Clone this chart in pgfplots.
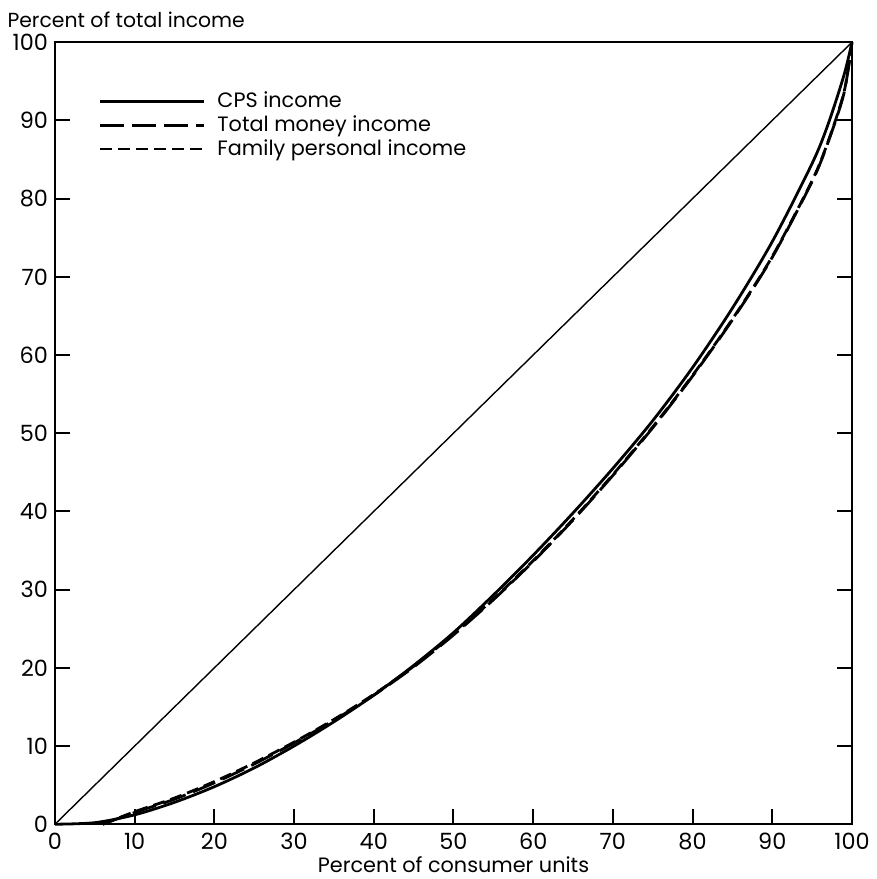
\documentclass[border=0pt]{standalone}
\usepackage{pgfplots}
\pgfplotsset{compat=1.18}
\usepackage{fontspec}
\setmainfont{Poppins}
\begin{document}
\begin{tikzpicture}
\begin{axis}[
  width=399pt, height=391.5pt, scale only axis,
  xmin=0, xmax=100, ymin=0, ymax=100,
  xtick={0,10,...,100}, ytick={0,10,...,100},
  tick align=inside, xtick pos=bottom, ytick pos=both,
  major tick length=7.5pt,
  axis line style={line width=1.2pt},
  every tick/.style={line width=1pt, black},
  tick label style={font=\fontsize{11.2}{13}\selectfont},
  /pgf/number format/assume math mode=true,
  xticklabel style={yshift=-1pt},
  yticklabel style={xshift=0pt},
  xlabel={Percent of consumer units},
  xlabel style={font=\fontsize{10.4}{12}\selectfont, at={(axis description cs:0.5,0)}, anchor=base, yshift=-24pt},
  clip=false,
  legend style={at={(rel axis cs:0.047,0.947)}, anchor=north west, draw=none, fill=none,
    font=\fontsize{10.4}{12}\selectfont, row sep=-1.5pt},
  legend cell align=left,
  legend image code/.code={\draw[#1, line width=1.4pt] (0pt,0pt) -- (52pt,0pt); \path (56pt,0pt);},
]
\node[anchor=base west, font=\fontsize{10.2}{12}\selectfont, inner sep=0pt] at (rel axis cs:-0.06,1.019) {Percent of total income};
\path (rel axis cs:-0.069,1.054) (rel axis cs:1.0276,-0.069);
\addplot[black, line width=1.4pt, smooth] coordinates {
(0,0)(5,0.2)(10,1.2)(15,2.8)(20,4.8)(25,7.2)(30,10)(35,13.1)(40,16.5)(45,20.3)(50,24.5)(55,29.3)(60,34.4)(65,39.8)(70,45.5)(75,51.6)(80,58.4)(85,66)(90,74.5)(95,84.5)(97,89.5)(99,95.8)(100,100)};
\addlegendentry{CPS income}
\addplot[black, line width=1.4pt, dash pattern=on 12pt off 4pt, smooth] coordinates {
(6,0)(10,1.5)(15,3.2)(20,5.3)(25,7.7)(30,10.4)(35,13.3)(40,16.5)(45,20.1)(50,24.2)(55,28.7)(60,33.6)(65,38.9)(70,44.6)(75,50.7)(80,57.3)(85,64.5)(90,72.5)(95,82.2)(97,87.2)(99,93.5)(100,100)};
\addlegendentry{Total money income}
\addplot[black, line width=1.4pt, dash pattern=on 6pt off 3pt, smooth] coordinates {
(6,0)(10,1.6)(15,3.35)(20,5.45)(25,7.85)(30,10.5)(35,13.4)(40,16.6)(45,20.2)(50,24.3)(55,28.8)(60,33.7)(65,39)(70,44.7)(75,50.8)(80,57.4)(85,64.6)(90,72.6)(95,82.3)(97,87.3)(99,93.6)(100,100)};
\addlegendentry{Family personal income}
\addplot[black, line width=0.7pt, forget plot] coordinates {(0,0)(100,100)};
\end{axis}
\end{tikzpicture}
\end{document}
